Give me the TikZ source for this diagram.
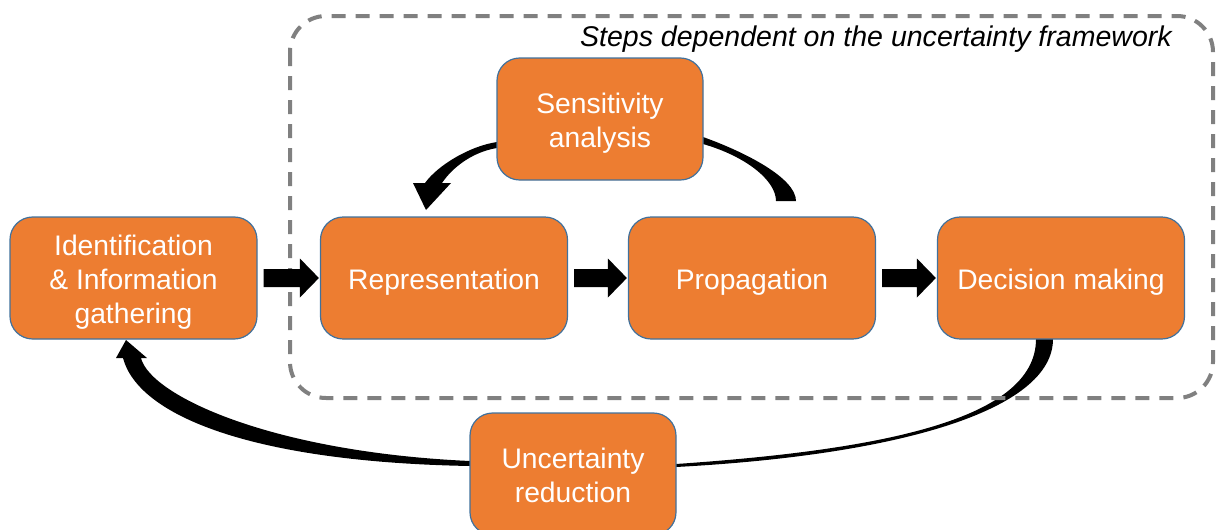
\documentclass[tikz,border=0pt]{standalone}
\usepackage{fontspec}
\setmainfont{Liberation Sans}
\usetikzlibrary{calc}
\definecolor{boxorange}{HTML}{ED7D31}
\definecolor{boxblue}{HTML}{41719C}
\definecolor{dashgray}{HTML}{808080}
\newcommand{\blockarr}[2]{%
  \path ($(#1.east)+(6,0)$) coordinate (s) ($(#2.west)+(-1,0)$) coordinate (e);
  \fill[black] ($(s)+(0,-9)$) -- ($(e)+(-19,-9)$) -- ($(e)+(-19,-19.5)$) -- (e)
    -- ($(e)+(-19,19.5)$) -- ($(e)+(-19,9)$) -- ($(s)+(0,9)$) -- cycle;}
\begin{document}
\begin{tikzpicture}[x=0.75pt,y=-0.75pt,
  stepbox/.style={rectangle, rounded corners=17pt, fill=boxorange, draw=boxblue,
    line width=0.9pt, text=white, font=\fontsize{21.2}{25.5}\selectfont,
    align=center, minimum height=91.5pt, inner sep=0pt, text height=21.5pt},
  twolines/.style={text height=47pt},
  threelines/.style={text height=72.5pt},
  widebox/.style={stepbox, minimum width=185.25pt},
  narrowbox/.style={stepbox, minimum width=154.5pt},
  curvedarrow/.style={fill=black},
  frame/.style={draw=dashgray, line width=3pt, dash pattern=on 10.5pt off 7.5pt, rounded corners=27pt}]
\useasboundingbox (0,0) rectangle (1217,529);

% curved arrow: sensitivity -> representation (left part)
\fill[curvedarrow] (540,139) -- (497,142) .. controls (470,146) and (438,165) .. (425,183)
  -- (413,183) -- (426,210) -- (451,183) -- (442,183)
  .. controls (452,168) and (472,152) .. (497,148) -- (540,146) -- cycle;
% curved arrow: propagation -> sensitivity (right part)
\fill[curvedarrow] (660,122) -- (703,137) .. controls (745,152) and (796,178) .. (796,201)
  -- (776,201) .. controls (776,180) and (745,156) .. (703,144) -- (660,132) -- cycle;
% curved arrow: uncertainty reduction -> identification (left part)
\fill[curvedarrow] (141,358) .. controls (150,395) and (270,452) .. (470,461) -- (560,463)
  -- (560,468) -- (470,466) .. controls (250,462) and (138,415) .. (123,358)
  -- (116,358) -- (126,340) -- (147,358) -- cycle;
% curved arrow: decision making -> uncertainty reduction (right part)
\fill[curvedarrow] (600,463) -- (676,464) .. controls (880,450) and (1036,420) .. (1036,339)
  -- (1036,330) -- (1053,330) -- (1053,339)
  .. controls (1053,410) and (900,455) .. (676,467) -- (600,468) -- cycle;

% dashed frame
\draw[frame] (290,16) rectangle (1213,398);

% boxes
\node[widebox, threelines] (ident) at (133.5,278) {Identification\\\& Information\\gathering};
\node[widebox] (rep) at (444,278) {Representation};
\node[widebox] (prop) at (752,278) {Propagation};
\node[widebox] (dec) at (1061,278) {Decision making};
\node[narrowbox, twolines] (sens) at (600,119) {Sensitivity\\analysis};
\node[narrowbox, twolines, text height=42.5pt] (unc) at (573,474) {Uncertainty\\reduction};

% straight block arrows
\blockarr{ident}{rep}
\blockarr{rep}{prop}
\blockarr{prop}{dec}

% title
\node[anchor=base east, inner sep=0pt, font=\itshape\fontsize{21.4}{25}\selectfont] (title) at (1172,46) {Steps dependent on the uncertainty framework};
\end{tikzpicture}
\end{document}
